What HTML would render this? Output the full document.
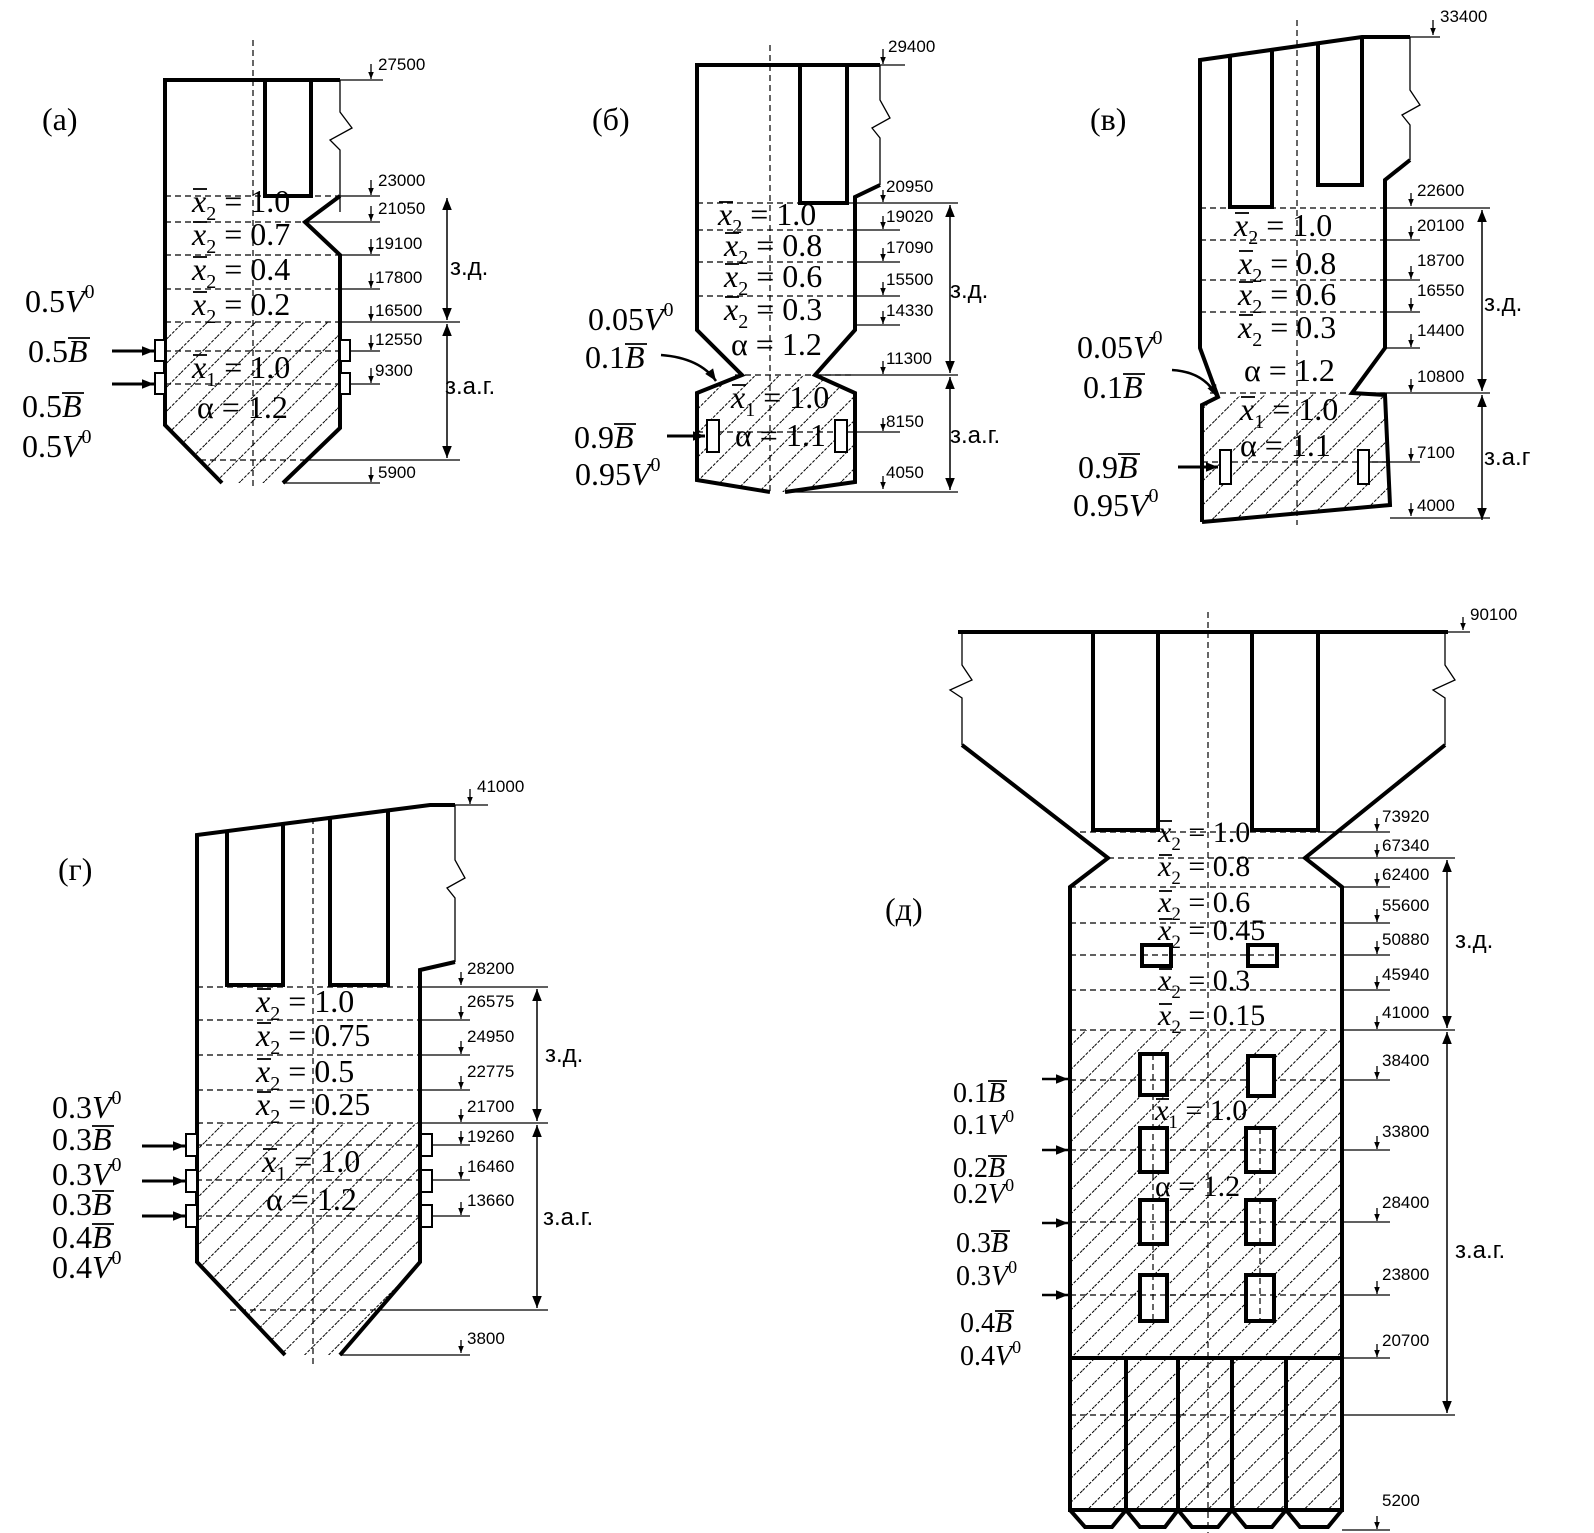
<!DOCTYPE html>
<html><head><meta charset="utf-8"><style>
body{margin:0;background:#fff}
svg{display:block}
.w{stroke:#000;stroke-width:4;fill:none;stroke-linejoin:miter}
.t{stroke:#000;stroke-width:1.3;fill:none}
.d{stroke:#000;stroke-width:1.2;stroke-dasharray:6 4;fill:none}
.n{font-family:"Liberation Sans",sans-serif;font-size:17px}
.s{font-family:"Liberation Serif",serif;font-size:32px}
.z{font-family:"Liberation Sans",sans-serif;font-size:24px}
.ol line{stroke:#000;stroke-width:1.8}
</style></head><body>
<svg width="1594" height="1533" viewBox="0 0 1594 1533" xmlns="http://www.w3.org/2000/svg">
<defs>
<pattern id="h" width="17" height="17" patternUnits="userSpaceOnUse" patternTransform="rotate(45)">
<line x1="0" y1="0" x2="0" y2="17" stroke="#000" stroke-width="2" stroke-dasharray="3 1.5"/>
</pattern>
<marker id="a" viewBox="0 0 10 10" refX="10" refY="5" markerUnits="userSpaceOnUse" markerWidth="16" markerHeight="12" orient="auto"><path d="M0,1 L10,5 L0,9z"/></marker>
<marker id="sm" viewBox="0 0 10 10" refX="10" refY="5" markerUnits="userSpaceOnUse" markerWidth="7" markerHeight="7" orient="auto"><path d="M0,1 L10,5 L0,9z"/></marker>
<marker id="big" viewBox="0 0 10 10" refX="10" refY="5" markerUnits="userSpaceOnUse" markerWidth="18" markerHeight="12" orient="auto"><path d="M0,1 L10,5 L0,9z"/></marker>
</defs>

<!-- ================= (a) ================= -->
<polygon points="165,322 340,322 340,428 283,483 222,483 165,425" fill="url(#h)"/>
<line class="d" x1="253" y1="40" x2="253" y2="487"/>
<g class="d"><line x1="165" y1="196" x2="340" y2="196"/><line x1="165" y1="222" x2="305" y2="222"/><line x1="165" y1="255" x2="340" y2="255"/><line x1="165" y1="289" x2="340" y2="289"/><line x1="165" y1="322" x2="340" y2="322"/><line x1="155" y1="351" x2="351" y2="351"/><line x1="155" y1="384" x2="351" y2="384"/><line x1="200" y1="460" x2="305" y2="460"/></g>
<polyline class="w" points="222,483 165,425 165,80 340,80"/>
<polyline class="w" points="265,80 265,196 311,196 311,80"/>
<polyline class="w" points="340,196 305,222 340,255 340,428 283,483"/>
<polyline class="t" points="340,80 340,112 352,128 330,140 340,150 340,212"/>
<g fill="#fff" stroke="#000" stroke-width="2"><rect x="155" y="340" width="10" height="21"/><rect x="155" y="373" width="10" height="21"/><rect x="340" y="340" width="10" height="21"/><rect x="340" y="373" width="10" height="21"/></g>
<g class="t"><line x1="340" y1="80" x2="383" y2="80"/><line x1="340" y1="196" x2="380" y2="196"/><line x1="305" y1="222" x2="380" y2="222"/><line x1="340" y1="255" x2="380" y2="255"/><line x1="340" y1="289" x2="380" y2="289"/><line x1="340" y1="322" x2="460" y2="322"/><line x1="350" y1="351" x2="380" y2="351"/><line x1="350" y1="384" x2="380" y2="384"/><line x1="305" y1="460" x2="460" y2="460"/><line x1="283" y1="483" x2="380" y2="483"/></g>
<g class="t" marker-end="url(#sm)"><line x1="371" y1="64" x2="371" y2="79"/><line x1="371" y1="180" x2="371" y2="195"/><line x1="371" y1="206" x2="371" y2="221"/><line x1="371" y1="239" x2="371" y2="254"/><line x1="371" y1="273" x2="371" y2="288"/><line x1="371" y1="306" x2="371" y2="321"/><line x1="371" y1="335" x2="371" y2="350"/><line x1="371" y1="368" x2="371" y2="383"/><line x1="371" y1="467" x2="371" y2="482"/></g>
<g class="n"><text x="378" y="70">27500</text><text x="378" y="186">23000</text><text x="378" y="214">21050</text><text x="375" y="249">19100</text><text x="375" y="283">17800</text><text x="375" y="316">16500</text><text x="375" y="345">12550</text><text x="375" y="376">9300</text><text x="378" y="478">5900</text></g>
<g stroke="#000" stroke-width="1.5" marker-end="url(#big)" fill="none"><line x1="447" y1="260" x2="447" y2="198"/><line x1="447" y1="260" x2="447" y2="320"/><line x1="447" y1="390" x2="447" y2="324"/><line x1="447" y1="390" x2="447" y2="458"/></g>
<text class="z" x="450" y="275">з.д.</text><text class="z" x="445" y="394">з.а.г.</text>
<g stroke="#000" stroke-width="3" marker-end="url(#a)"><line x1="112" y1="351" x2="154" y2="351"/><line x1="112" y1="384" x2="154" y2="384"/></g>
<g class="s"><text x="42" y="130">(a)</text>
<text x="25" y="312">0.5<tspan font-style="italic">V</tspan><tspan font-size="20" dy="-14">0</tspan></text>
<text x="28" y="362">0.5<tspan font-style="italic">B</tspan></text>
<text x="22" y="417">0.5<tspan font-style="italic">B</tspan></text>
<text x="22" y="457">0.5<tspan font-style="italic">V</tspan><tspan font-size="20" dy="-14">0</tspan></text>
<text x="192" y="212"><tspan font-style="italic">x</tspan><tspan font-size="20" dy="8">2</tspan><tspan dy="-8"> = 1.0</tspan></text>
<text x="192" y="245"><tspan font-style="italic">x</tspan><tspan font-size="20" dy="8">2</tspan><tspan dy="-8"> = 0.7</tspan></text>
<text x="192" y="280"><tspan font-style="italic">x</tspan><tspan font-size="20" dy="8">2</tspan><tspan dy="-8"> = 0.4</tspan></text>
<text x="192" y="315"><tspan font-style="italic">x</tspan><tspan font-size="20" dy="8">2</tspan><tspan dy="-8"> = 0.2</tspan></text>
<text x="192" y="378"><tspan font-style="italic">x</tspan><tspan font-size="20" dy="8">1</tspan><tspan dy="-8"> = 1.0</tspan></text>
<text x="197" y="418">α = 1.2</text></g>
<g class="ol"><line x1="68" y1="338" x2="90" y2="338"/><line x1="62" y1="393" x2="84" y2="393"/>
<line x1="193" y1="189" x2="207" y2="189"/><line x1="193" y1="222" x2="207" y2="222"/><line x1="193" y1="257" x2="207" y2="257"/><line x1="193" y1="292" x2="207" y2="292"/><line x1="193" y1="355" x2="207" y2="355"/></g>

<!-- ================= (б) ================= -->
<polygon points="742,375 815,375 855,393 855,482 785,492 770,492 697,480 697,393" fill="url(#h)"/>
<line class="d" x1="770" y1="45" x2="770" y2="495"/>
<g class="d"><line x1="697" y1="203" x2="855" y2="203"/><line x1="697" y1="230" x2="855" y2="230"/><line x1="697" y1="262" x2="855" y2="262"/><line x1="697" y1="296" x2="855" y2="296"/><line x1="735" y1="375" x2="855" y2="375"/><line x1="697" y1="432" x2="855" y2="432"/></g>
<polyline class="w" points="770,492 697,480 697,393 742,375 697,330 697,65 880,65"/>
<polyline class="w" points="800,65 800,203 847,203 847,65"/>
<polyline class="w" points="880,185 855,197 855,330 815,375 855,393 855,482 785,492"/>
<polyline class="t" points="880,65 880,100 890,118 872,128 880,138 880,185"/>
<g fill="#fff" stroke="#000" stroke-width="2"><rect x="707" y="420" width="12" height="32"/><rect x="835" y="420" width="12" height="32"/></g>
<g class="t"><line x1="880" y1="65" x2="905" y2="65"/><line x1="855" y1="203" x2="958" y2="203"/><line x1="855" y1="230" x2="900" y2="230"/><line x1="855" y1="262" x2="900" y2="262"/><line x1="855" y1="296" x2="900" y2="296"/><line x1="855" y1="325" x2="900" y2="325"/><line x1="815" y1="375" x2="958" y2="375"/><line x1="855" y1="432" x2="900" y2="432"/><line x1="785" y1="492" x2="958" y2="492"/></g>
<g class="t" marker-end="url(#sm)"><line x1="883" y1="49" x2="883" y2="64"/><line x1="883" y1="190" x2="883" y2="202"/><line x1="883" y1="216" x2="883" y2="229"/><line x1="883" y1="248" x2="883" y2="261"/><line x1="883" y1="282" x2="883" y2="295"/><line x1="883" y1="311" x2="883" y2="324"/><line x1="883" y1="361" x2="883" y2="374"/><line x1="883" y1="418" x2="883" y2="431"/><line x1="883" y1="476" x2="883" y2="489"/></g>
<g class="n"><text x="888" y="52">29400</text><text x="886" y="192">20950</text><text x="886" y="222">19020</text><text x="886" y="253">17090</text><text x="886" y="285">15500</text><text x="886" y="316">14330</text><text x="886" y="364">11300</text><text x="886" y="427">8150</text><text x="886" y="478">4050</text></g>
<g stroke="#000" stroke-width="1.5" marker-end="url(#big)" fill="none"><line x1="950" y1="290" x2="950" y2="205"/><line x1="950" y1="290" x2="950" y2="373"/><line x1="950" y1="430" x2="950" y2="377"/><line x1="950" y1="430" x2="950" y2="490"/></g>
<text class="z" x="950" y="298">з.д.</text><text class="z" x="950" y="443">з.а.г.</text>
<path d="M661,355 Q700,358 716,381" stroke="#000" stroke-width="2.5" fill="none" marker-end="url(#a)"/>
<line x1="667" y1="436" x2="705" y2="436" stroke="#000" stroke-width="3" marker-end="url(#a)"/>
<g class="s"><text x="592" y="130">(б)</text>
<text x="588" y="330">0.05<tspan font-style="italic">V</tspan><tspan font-size="20" dy="-14">0</tspan></text>
<text x="585" y="368">0.1<tspan font-style="italic">B</tspan></text>
<text x="574" y="448">0.9<tspan font-style="italic">B</tspan></text>
<text x="575" y="485">0.95<tspan font-style="italic">V</tspan><tspan font-size="20" dy="-14">0</tspan></text>
<text x="718" y="225"><tspan font-style="italic">x</tspan><tspan font-size="20" dy="8">2</tspan><tspan dy="-8"> = 1.0</tspan></text>
<text x="724" y="256"><tspan font-style="italic">x</tspan><tspan font-size="20" dy="8">2</tspan><tspan dy="-8"> = 0.8</tspan></text>
<text x="724" y="287"><tspan font-style="italic">x</tspan><tspan font-size="20" dy="8">2</tspan><tspan dy="-8"> = 0.6</tspan></text>
<text x="724" y="320"><tspan font-style="italic">x</tspan><tspan font-size="20" dy="8">2</tspan><tspan dy="-8"> = 0.3</tspan></text>
<text x="731" y="355">α = 1.2</text>
<text x="731" y="408"><tspan font-style="italic">x</tspan><tspan font-size="20" dy="8">1</tspan><tspan dy="-8"> = 1.0</tspan></text>
<text x="735" y="446">α = 1.1</text></g>
<g class="ol"><line x1="625" y1="344" x2="647" y2="344"/><line x1="614" y1="424" x2="636" y2="424"/>
<line x1="719" y1="202" x2="733" y2="202"/><line x1="725" y1="233" x2="739" y2="233"/><line x1="725" y1="264" x2="739" y2="264"/><line x1="725" y1="297" x2="739" y2="297"/><line x1="732" y1="385" x2="746" y2="385"/></g>

<!-- ================= (в) ================= -->
<polygon points="1218,397 1352,393 1385,395 1390,505 1202,522 1202,405" fill="url(#h)"/>
<line class="d" x1="1297" y1="20" x2="1297" y2="525"/>
<g class="d"><line x1="1200" y1="208" x2="1385" y2="208"/><line x1="1200" y1="240" x2="1385" y2="240"/><line x1="1200" y1="280" x2="1385" y2="280"/><line x1="1200" y1="312" x2="1385" y2="312"/><line x1="1210" y1="393" x2="1385" y2="393"/><line x1="1202" y1="462" x2="1388" y2="462"/></g>
<polyline class="w" points="1202,522 1202,405 1218,397 1200,348 1200,60 1362,37 1410,37"/>
<polyline class="w" points="1230,55 1230,207 1272,207 1272,49"/>
<polyline class="w" points="1318,43 1318,185 1362,185 1362,37"/>
<polyline class="w" points="1410,160 1385,180 1385,348 1352,393 1385,395 1390,505 1202,522"/>
<polyline class="t" points="1410,37 1410,90 1420,105 1402,115 1410,125 1410,160"/>
<g fill="#fff" stroke="#000" stroke-width="2"><rect x="1220" y="450" width="11" height="34"/><rect x="1358" y="450" width="11" height="34"/></g>
<g class="t"><line x1="1410" y1="37" x2="1440" y2="37"/><line x1="1385" y1="208" x2="1490" y2="208"/><line x1="1385" y1="240" x2="1420" y2="240"/><line x1="1385" y1="280" x2="1420" y2="280"/><line x1="1385" y1="312" x2="1420" y2="312"/><line x1="1385" y1="348" x2="1420" y2="348"/><line x1="1352" y1="393" x2="1490" y2="393"/><line x1="1369" y1="462" x2="1420" y2="462"/><line x1="1390" y1="518" x2="1490" y2="518"/></g>
<g class="t" marker-end="url(#sm)"><line x1="1433" y1="20" x2="1433" y2="35"/><line x1="1411" y1="193" x2="1411" y2="206"/><line x1="1411" y1="226" x2="1411" y2="239"/><line x1="1411" y1="266" x2="1411" y2="279"/><line x1="1411" y1="298" x2="1411" y2="311"/><line x1="1411" y1="334" x2="1411" y2="347"/><line x1="1411" y1="379" x2="1411" y2="392"/><line x1="1411" y1="448" x2="1411" y2="461"/><line x1="1411" y1="503" x2="1411" y2="516"/></g>
<g class="n"><text x="1440" y="22">33400</text><text x="1417" y="196">22600</text><text x="1417" y="231">20100</text><text x="1417" y="266">18700</text><text x="1417" y="296">16550</text><text x="1417" y="336">14400</text><text x="1417" y="382">10800</text><text x="1417" y="458">7100</text><text x="1417" y="511">4000</text></g>
<g stroke="#000" stroke-width="1.5" marker-end="url(#big)" fill="none"><line x1="1482" y1="300" x2="1482" y2="210"/><line x1="1482" y1="300" x2="1482" y2="391"/><line x1="1482" y1="455" x2="1482" y2="395"/><line x1="1482" y1="455" x2="1482" y2="520"/></g>
<text class="z" x="1484" y="311">з.д.</text><text class="z" x="1484" y="465">з.а.г</text>
<path d="M1172,370 Q1205,372 1217,397" stroke="#000" stroke-width="2.5" fill="none" marker-end="url(#a)"/>
<line x1="1178" y1="467" x2="1218" y2="467" stroke="#000" stroke-width="3" marker-end="url(#a)"/>
<g class="s"><text x="1090" y="130">(в)</text>
<text x="1077" y="358">0.05<tspan font-style="italic">V</tspan><tspan font-size="20" dy="-14">0</tspan></text>
<text x="1083" y="398">0.1<tspan font-style="italic">B</tspan></text>
<text x="1078" y="478">0.9<tspan font-style="italic">B</tspan></text>
<text x="1073" y="516">0.95<tspan font-style="italic">V</tspan><tspan font-size="20" dy="-14">0</tspan></text>
<text x="1234" y="236"><tspan font-style="italic">x</tspan><tspan font-size="20" dy="8">2</tspan><tspan dy="-8"> = 1.0</tspan></text>
<text x="1238" y="274"><tspan font-style="italic">x</tspan><tspan font-size="20" dy="8">2</tspan><tspan dy="-8"> = 0.8</tspan></text>
<text x="1238" y="305"><tspan font-style="italic">x</tspan><tspan font-size="20" dy="8">2</tspan><tspan dy="-8"> = 0.6</tspan></text>
<text x="1238" y="338"><tspan font-style="italic">x</tspan><tspan font-size="20" dy="8">2</tspan><tspan dy="-8"> = 0.3</tspan></text>
<text x="1244" y="381">α = 1.2</text>
<text x="1240" y="420"><tspan font-style="italic">x</tspan><tspan font-size="20" dy="8">1</tspan><tspan dy="-8"> = 1.0</tspan></text>
<text x="1240" y="456">α = 1.1</text></g>
<g class="ol"><line x1="1123" y1="374" x2="1145" y2="374"/><line x1="1118" y1="454" x2="1140" y2="454"/>
<line x1="1235" y1="213" x2="1249" y2="213"/><line x1="1239" y1="251" x2="1253" y2="251"/><line x1="1239" y1="282" x2="1253" y2="282"/><line x1="1239" y1="315" x2="1253" y2="315"/><line x1="1241" y1="397" x2="1255" y2="397"/></g>

<!-- ================= (г) ================= -->
<polygon points="197,1123 420,1123 420,1262 340,1355 285,1355 197,1262" fill="url(#h)"/>
<line class="d" x1="313" y1="818" x2="313" y2="1365"/>
<g class="d"><line x1="197" y1="987" x2="420" y2="987"/><line x1="197" y1="1020" x2="420" y2="1020"/><line x1="197" y1="1055" x2="420" y2="1055"/><line x1="197" y1="1090" x2="420" y2="1090"/><line x1="197" y1="1123" x2="420" y2="1123"/><line x1="186" y1="1145" x2="432" y2="1145"/><line x1="186" y1="1180" x2="432" y2="1180"/><line x1="186" y1="1216" x2="432" y2="1216"/><line x1="230" y1="1310" x2="380" y2="1310"/></g>
<polyline class="w" points="285,1355 197,1262 197,835 430,805 455,805"/>
<polyline class="w" points="227,831 227,985 283,985 283,824"/>
<polyline class="w" points="330,818 330,985 388,985 388,811"/>
<polyline class="w" points="455,962 420,970 420,1262 340,1355"/>
<polyline class="t" points="455,805 455,860 465,878 447,888 455,898 455,962"/>
<g fill="#fff" stroke="#000" stroke-width="2"><rect x="186" y="1134" width="11" height="22"/><rect x="186" y="1170" width="11" height="22"/><rect x="186" y="1205" width="11" height="22"/><rect x="421" y="1134" width="11" height="22"/><rect x="421" y="1170" width="11" height="22"/><rect x="421" y="1205" width="11" height="22"/></g>
<g class="t"><line x1="455" y1="805" x2="488" y2="805"/><line x1="420" y1="987" x2="548" y2="987"/><line x1="420" y1="1020" x2="470" y2="1020"/><line x1="420" y1="1055" x2="470" y2="1055"/><line x1="420" y1="1090" x2="470" y2="1090"/><line x1="420" y1="1123" x2="548" y2="1123"/><line x1="432" y1="1145" x2="470" y2="1145"/><line x1="432" y1="1180" x2="470" y2="1180"/><line x1="432" y1="1216" x2="470" y2="1216"/><line x1="380" y1="1310" x2="548" y2="1310"/><line x1="340" y1="1355" x2="470" y2="1355"/></g>
<g class="t" marker-end="url(#sm)"><line x1="470" y1="789" x2="470" y2="804"/><line x1="461" y1="972" x2="461" y2="985"/><line x1="461" y1="1006" x2="461" y2="1019"/><line x1="461" y1="1041" x2="461" y2="1054"/><line x1="461" y1="1076" x2="461" y2="1089"/><line x1="461" y1="1109" x2="461" y2="1122"/><line x1="461" y1="1131" x2="461" y2="1144"/><line x1="461" y1="1166" x2="461" y2="1179"/><line x1="461" y1="1202" x2="461" y2="1215"/><line x1="461" y1="1340" x2="461" y2="1353"/></g>
<g class="n"><text x="477" y="792">41000</text><text x="467" y="974">28200</text><text x="467" y="1007">26575</text><text x="467" y="1042">24950</text><text x="467" y="1077">22775</text><text x="467" y="1112">21700</text><text x="467" y="1142">19260</text><text x="467" y="1172">16460</text><text x="467" y="1206">13660</text><text x="467" y="1344">3800</text></g>
<g stroke="#000" stroke-width="1.5" marker-end="url(#big)" fill="none"><line x1="537" y1="1055" x2="537" y2="989"/><line x1="537" y1="1055" x2="537" y2="1121"/><line x1="537" y1="1215" x2="537" y2="1125"/><line x1="537" y1="1215" x2="537" y2="1308"/></g>
<text class="z" x="545" y="1062">з.д.</text><text class="z" x="543" y="1225">з.а.г.</text>
<g stroke="#000" stroke-width="3" marker-end="url(#a)"><line x1="142" y1="1146" x2="185" y2="1146"/><line x1="142" y1="1181" x2="185" y2="1181"/><line x1="142" y1="1216" x2="185" y2="1216"/></g>
<g class="s"><text x="58" y="880">(г)</text>
<text x="52" y="1118">0.3<tspan font-style="italic">V</tspan><tspan font-size="20" dy="-14">0</tspan></text>
<text x="52" y="1150">0.3<tspan font-style="italic">B</tspan></text>
<text x="52" y="1185">0.3<tspan font-style="italic">V</tspan><tspan font-size="20" dy="-14">0</tspan></text>
<text x="52" y="1215">0.3<tspan font-style="italic">B</tspan></text>
<text x="52" y="1248">0.4<tspan font-style="italic">B</tspan></text>
<text x="52" y="1278">0.4<tspan font-style="italic">V</tspan><tspan font-size="20" dy="-14">0</tspan></text>
<text x="256" y="1012"><tspan font-style="italic">x</tspan><tspan font-size="20" dy="8">2</tspan><tspan dy="-8"> = 1.0</tspan></text>
<text x="256" y="1046"><tspan font-style="italic">x</tspan><tspan font-size="20" dy="8">2</tspan><tspan dy="-8"> = 0.75</tspan></text>
<text x="256" y="1082"><tspan font-style="italic">x</tspan><tspan font-size="20" dy="8">2</tspan><tspan dy="-8"> = 0.5</tspan></text>
<text x="256" y="1115"><tspan font-style="italic">x</tspan><tspan font-size="20" dy="8">2</tspan><tspan dy="-8"> = 0.25</tspan></text>
<text x="262" y="1172"><tspan font-style="italic">x</tspan><tspan font-size="20" dy="8">1</tspan><tspan dy="-8"> = 1.0</tspan></text>
<text x="266" y="1210">α = 1.2</text></g>
<g class="ol"><line x1="92" y1="1126" x2="114" y2="1126"/><line x1="92" y1="1191" x2="114" y2="1191"/><line x1="92" y1="1224" x2="114" y2="1224"/>
<line x1="257" y1="989" x2="271" y2="989"/><line x1="257" y1="1023" x2="271" y2="1023"/><line x1="257" y1="1059" x2="271" y2="1059"/><line x1="257" y1="1092" x2="271" y2="1092"/><line x1="263" y1="1149" x2="277" y2="1149"/></g>

<!-- ================= (д) ================= -->
<rect x="1070" y="1030" width="272" height="480" fill="url(#h)"/>
<line class="d" x1="1208" y1="612" x2="1208" y2="1533"/>
<g class="d"><line x1="1080" y1="832" x2="1342" y2="832"/><line x1="1108" y1="858" x2="1305" y2="858"/><line x1="1070" y1="887" x2="1342" y2="887"/><line x1="1070" y1="923" x2="1342" y2="923"/><line x1="1070" y1="955" x2="1342" y2="955"/><line x1="1070" y1="990" x2="1342" y2="990"/><line x1="1070" y1="1030" x2="1342" y2="1030"/><line x1="1070" y1="1080" x2="1342" y2="1080"/><line x1="1070" y1="1150" x2="1342" y2="1150"/><line x1="1070" y1="1222" x2="1342" y2="1222"/><line x1="1070" y1="1295" x2="1342" y2="1295"/><line x1="1070" y1="1415" x2="1342" y2="1415"/></g>
<line class="w" x1="958" y1="632" x2="1448" y2="632"/>
<polyline class="w" points="962,745 1108,858 1070,887 1070,1510 1342,1510 1342,887 1305,858 1445,745"/>
<polyline class="w" points="1093,632 1093,830 1158,830 1158,632"/>
<polyline class="w" points="1252,632 1252,830 1318,830 1318,632"/>
<polyline class="t" points="962,632 962,665 972,680 950,690 962,698 962,745"/>
<polyline class="t" points="1445,632 1445,665 1455,680 1433,690 1445,698 1445,745"/>
<g class="w" stroke-width="3"><line x1="1070" y1="1358" x2="1342" y2="1358"/><line x1="1126" y1="1358" x2="1126" y2="1510"/><line x1="1178" y1="1358" x2="1178" y2="1510"/><line x1="1232" y1="1358" x2="1232" y2="1510"/><line x1="1286" y1="1358" x2="1286" y2="1510"/>
<polyline points="1070,1510 1085,1527 1112,1527 1126,1510 1140,1527 1165,1527 1178,1510 1192,1527 1218,1527 1232,1510 1246,1527 1272,1527 1286,1510 1300,1527 1328,1527 1342,1510"/></g>
<g fill="#fff" stroke="#000" stroke-width="4"><rect x="1142" y="945" width="29" height="21"/><rect x="1248" y="945" width="29" height="21"/>
<rect x="1140" y="1054" width="27" height="41"/><rect x="1248" y="1056" width="26" height="40"/>
<rect x="1140" y="1128" width="27" height="44"/><rect x="1246" y="1128" width="28" height="44"/>
<rect x="1140" y="1200" width="27" height="44"/><rect x="1246" y="1200" width="28" height="44"/>
<rect x="1140" y="1275" width="27" height="46"/><rect x="1246" y="1275" width="28" height="46"/></g>
<g class="d"><line x1="1142" y1="955" x2="1171" y2="955"/><line x1="1248" y1="955" x2="1277" y2="955"/><line x1="1153" y1="1054" x2="1153" y2="1321"/><line x1="1260" y1="1128" x2="1260" y2="1321"/><line x1="1140" y1="1080" x2="1167" y2="1080"/><line x1="1140" y1="1150" x2="1274" y2="1150"/><line x1="1140" y1="1222" x2="1274" y2="1222"/><line x1="1140" y1="1295" x2="1274" y2="1295"/></g>
<g class="t"><line x1="1448" y1="632" x2="1470" y2="632"/><line x1="1318" y1="832" x2="1390" y2="832"/><line x1="1305" y1="858" x2="1455" y2="858"/><line x1="1342" y1="887" x2="1390" y2="887"/><line x1="1342" y1="923" x2="1390" y2="923"/><line x1="1342" y1="955" x2="1390" y2="955"/><line x1="1342" y1="990" x2="1390" y2="990"/><line x1="1342" y1="1030" x2="1455" y2="1030"/><line x1="1342" y1="1080" x2="1390" y2="1080"/><line x1="1342" y1="1150" x2="1390" y2="1150"/><line x1="1342" y1="1222" x2="1390" y2="1222"/><line x1="1342" y1="1295" x2="1390" y2="1295"/><line x1="1342" y1="1358" x2="1390" y2="1358"/><line x1="1342" y1="1415" x2="1455" y2="1415"/><line x1="1342" y1="1530" x2="1390" y2="1530"/></g>
<g class="t" marker-end="url(#sm)"><line x1="1463" y1="617" x2="1463" y2="630"/><line x1="1377" y1="818" x2="1377" y2="831"/><line x1="1377" y1="844" x2="1377" y2="857"/><line x1="1377" y1="873" x2="1377" y2="886"/><line x1="1377" y1="909" x2="1377" y2="922"/><line x1="1377" y1="941" x2="1377" y2="954"/><line x1="1377" y1="976" x2="1377" y2="989"/><line x1="1377" y1="1016" x2="1377" y2="1029"/><line x1="1377" y1="1066" x2="1377" y2="1079"/><line x1="1377" y1="1136" x2="1377" y2="1149"/><line x1="1377" y1="1208" x2="1377" y2="1221"/><line x1="1377" y1="1281" x2="1377" y2="1294"/><line x1="1377" y1="1344" x2="1377" y2="1357"/><line x1="1377" y1="1516" x2="1377" y2="1529"/></g>
<g class="n"><text x="1470" y="620">90100</text><text x="1382" y="822">73920</text><text x="1382" y="851">67340</text><text x="1382" y="880">62400</text><text x="1382" y="911">55600</text><text x="1382" y="945">50880</text><text x="1382" y="980">45940</text><text x="1382" y="1018">41000</text><text x="1382" y="1066">38400</text><text x="1382" y="1137">33800</text><text x="1382" y="1208">28400</text><text x="1382" y="1280">23800</text><text x="1382" y="1346">20700</text><text x="1382" y="1506">5200</text></g>
<g stroke="#000" stroke-width="1.5" marker-end="url(#big)" fill="none"><line x1="1447" y1="940" x2="1447" y2="860"/><line x1="1447" y1="940" x2="1447" y2="1028"/><line x1="1447" y1="1250" x2="1447" y2="1032"/><line x1="1447" y1="1250" x2="1447" y2="1413"/></g>
<text class="z" x="1455" y="948">з.д.</text><text class="z" x="1455" y="1258">з.а.г.</text>
<g stroke="#000" stroke-width="2.5" marker-end="url(#a)"><line x1="1042" y1="1079" x2="1068" y2="1079"/><line x1="1042" y1="1150" x2="1068" y2="1150"/><line x1="1042" y1="1223" x2="1068" y2="1223"/><line x1="1042" y1="1295" x2="1068" y2="1295"/></g>
<g class="s" font-size="28"><text x="885" y="920" font-size="32">(д)</text>
<text x="953" y="1102" font-size="28">0.1<tspan font-style="italic">B</tspan></text>
<text x="953" y="1134" font-size="28">0.1<tspan font-style="italic">V</tspan><tspan font-size="18" dy="-12">0</tspan></text>
<text x="953" y="1177" font-size="28">0.2<tspan font-style="italic">B</tspan></text>
<text x="953" y="1203" font-size="28">0.2<tspan font-style="italic">V</tspan><tspan font-size="18" dy="-12">0</tspan></text>
<text x="956" y="1252" font-size="28">0.3<tspan font-style="italic">B</tspan></text>
<text x="956" y="1285" font-size="28">0.3<tspan font-style="italic">V</tspan><tspan font-size="18" dy="-12">0</tspan></text>
<text x="960" y="1332" font-size="28">0.4<tspan font-style="italic">B</tspan></text>
<text x="960" y="1365" font-size="28">0.4<tspan font-style="italic">V</tspan><tspan font-size="18" dy="-12">0</tspan></text>
<text x="1158" y="842" font-size="30"><tspan font-style="italic">x</tspan><tspan font-size="19" dy="8">2</tspan><tspan dy="-8"> = 1.0</tspan></text>
<text x="1158" y="876" font-size="30"><tspan font-style="italic">x</tspan><tspan font-size="19" dy="8">2</tspan><tspan dy="-8"> = 0.8</tspan></text>
<text x="1158" y="912" font-size="30"><tspan font-style="italic">x</tspan><tspan font-size="19" dy="8">2</tspan><tspan dy="-8"> = 0.6</tspan></text>
<text x="1158" y="940" font-size="30"><tspan font-style="italic">x</tspan><tspan font-size="19" dy="8">2</tspan><tspan dy="-8"> = 0.45</tspan></text>
<text x="1158" y="990" font-size="30"><tspan font-style="italic">x</tspan><tspan font-size="19" dy="8">2</tspan><tspan dy="-8"> = 0.3</tspan></text>
<text x="1158" y="1025" font-size="30"><tspan font-style="italic">x</tspan><tspan font-size="19" dy="8">2</tspan><tspan dy="-8"> = 0.15</tspan></text>
<text x="1155" y="1120" font-size="30"><tspan font-style="italic">x</tspan><tspan font-size="19" dy="8">1</tspan><tspan dy="-8"> = 1.0</tspan></text>
<text x="1155" y="1196" font-size="30">α = 1.2</text></g>
<g class="ol"><line x1="988" y1="1081" x2="1007" y2="1081"/><line x1="988" y1="1156" x2="1007" y2="1156"/><line x1="991" y1="1231" x2="1010" y2="1231"/><line x1="995" y1="1311" x2="1014" y2="1311"/>
<line x1="1159" y1="821" x2="1172" y2="821"/><line x1="1159" y1="855" x2="1172" y2="855"/><line x1="1159" y1="891" x2="1172" y2="891"/><line x1="1159" y1="919" x2="1172" y2="919"/><line x1="1159" y1="969" x2="1172" y2="969"/><line x1="1159" y1="1004" x2="1172" y2="1004"/><line x1="1156" y1="1099" x2="1169" y2="1099"/></g>
</svg>
</body></html>
